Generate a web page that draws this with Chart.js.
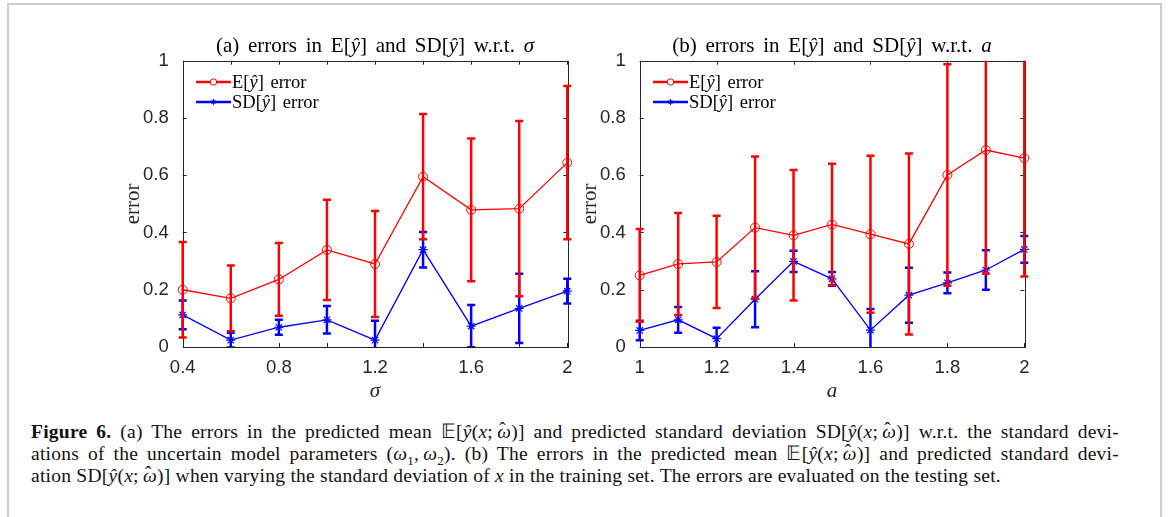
<!DOCTYPE html>
<html>
<head>
<meta charset="utf-8">
<script src="https://cdn.jsdelivr.net/npm/chart.js@4/dist/chart.umd.min.js"></script>
<style>
  body { margin: 0; background: #fff; width: 1170px; height: 517px; overflow: hidden; position: relative; }
  #frame { position: absolute; left: 7px; top: 3px; width: 1155px; height: 530px; border: 2px solid #cccccc; box-sizing: border-box; }
  canvas { position: absolute; }
  .title { position: absolute; width: 460px; text-align: center; font: 21px "Liberation Serif", serif; word-spacing: 3.5px; color: #000; line-height: 22px; }
  .legend { position: absolute; font: 18.5px "Liberation Serif", serif; word-spacing: 2px; color: #000; line-height: 20px; }
  .legend div { height: 20px; white-space: nowrap; }
  .legend svg { vertical-align: middle; margin-right: 1px; position: relative; top: -2px; }
  .caption { position: absolute; left: 31px; width: 1088px; font: 19.5px "Liberation Serif", serif; letter-spacing: 0.25px; color: #111; line-height: 22px; }
  .caption div { text-align: justify; text-align-last: justify; white-space: nowrap; }
  .caption div.last { text-align: left; text-align-last: left; }
  .hat { position: relative; }
  .hat::after { content: "\02C6"; position: absolute; left: 2px; top: -3px; font-style: normal; }
  sub { font-size: 13px; line-height: 0; }
</style>
</head>
<body>
<div id="frame"></div>
<canvas id="chartA" width="480" height="400" style="left:100px; top:20px"></canvas>
<canvas id="chartB" width="480" height="400" style="left:557px; top:20px"></canvas>

<div class="title" style="left:145px; top:34px">(a) errors in E[<i>ŷ</i>] and SD[<i>ŷ</i>] w.r.t. <i>σ</i></div>
<div class="title" style="left:602px; top:34px">(b) errors in E[<i>ŷ</i>] and SD[<i>ŷ</i>] w.r.t. <i>a</i></div>

<div class="legend" style="left:196px; top:72px">
  <div><svg width="35" height="12"><line x1="0" y1="6" x2="35" y2="6" stroke="#ff0000" stroke-width="2.5"/><circle cx="17.5" cy="6" r="3.2" fill="#fff" stroke="#ff0000" stroke-width="1"/></svg>E[<i>ŷ</i>] error</div>
  <div><svg width="35" height="12"><line x1="0" y1="6" x2="35" y2="6" stroke="#0000ff" stroke-width="2.5"/><path d="M14.5 6h6M17.5 3v6M15.4 3.9l4.2 4.2M19.6 3.9l-4.2 4.2" stroke="#0000ff" stroke-width="1"/></svg>SD[<i>ŷ</i>] error</div>
</div>
<div class="legend" style="left:653px; top:72px">
  <div><svg width="35" height="12"><line x1="0" y1="6" x2="35" y2="6" stroke="#ff0000" stroke-width="2.5"/><circle cx="17.5" cy="6" r="3.2" fill="#fff" stroke="#ff0000" stroke-width="1"/></svg>E[<i>ŷ</i>] error</div>
  <div><svg width="35" height="12"><line x1="0" y1="6" x2="35" y2="6" stroke="#0000ff" stroke-width="2.5"/><path d="M14.5 6h6M17.5 3v6M15.4 3.9l4.2 4.2M19.6 3.9l-4.2 4.2" stroke="#0000ff" stroke-width="1"/></svg>SD[<i>ŷ</i>] error</div>
</div>

<div class="caption" style="top:421px">
  <div><b>Figure 6.</b> (a) The errors in the predicted mean 𝔼[<i>ŷ</i>(<i>x</i>;&#8201;<i class="hat">ω</i>)] and predicted standard deviation SD[<i>ŷ</i>(<i>x</i>;&#8201;<i class="hat">ω</i>)] w.r.t. the standard devi-</div>
  <div>ations of the uncertain model parameters (<i>ω</i><sub>1</sub>,&#8201;<i>ω</i><sub>2</sub>). (b) The errors in the predicted mean 𝔼[<i>ŷ</i>(<i>x</i>;&#8201;<i class="hat">ω</i>)] and predicted standard devi-</div>
  <div class="last">ation SD[<i>ŷ</i>(<i>x</i>;&#8201;<i class="hat">ω</i>)] when varying the standard deviation of <i>x</i> in the training set. The errors are evaluated on the testing set.</div>
</div>

<script>
// (a) errors vs sigma
const sigmaValues = [0.4, 0.6, 0.8, 1.0, 1.2, 1.4, 1.6, 1.8, 2.0];
const meanErrA = [0.200, 0.170, 0.236, 0.339, 0.290, 0.595, 0.479, 0.483, 0.644];
const meanStdA = [0.167, 0.115, 0.127, 0.175, 0.185, 0.219, 0.249, 0.306, 0.268];
const sdErrA = [0.112, 0.024, 0.069, 0.095, 0.024, 0.340, 0.073, 0.135, 0.195];
const sdStdA = [0.050, 0.026, 0.026, 0.048, 0.068, 0.062, 0.074, 0.121, 0.043];
const sigmaTickLabels = ['0.4', '0.8', '1.2', '1.6', '2'];

// (b) errors vs a
const aValues = [1.0, 1.1, 1.2, 1.3, 1.4, 1.5, 1.6, 1.7, 1.8, 1.9, 2.0];
const meanErrB = [0.250, 0.290, 0.297, 0.417, 0.390, 0.428, 0.394, 0.360, 0.601, 0.688, 0.660];
const meanStdB = [0.162, 0.178, 0.161, 0.248, 0.228, 0.212, 0.274, 0.316, 0.387, 0.432, 0.414];
const sdErrB = [0.058, 0.095, 0.029, 0.167, 0.299, 0.238, 0.059, 0.181, 0.224, 0.269, 0.341];
const sdStdB = [0.034, 0.045, 0.038, 0.098, 0.037, 0.024, 0.074, 0.096, 0.036, 0.069, 0.047];
const aTickLabels = ['1', '1.2', '1.4', '1.6', '1.8', '2'];

const yTickLabels = ['0', '0.2', '0.4', '0.6', '0.8', '1'];
const axisColor = '#262626';

// error bars, drawn under each dataset's line and markers
const errorBars = {
  id: 'errorBars',
  beforeDatasetDraw(chart, args) {
    const ds = chart.data.datasets[args.index];
    if (!ds.errors) return;
    const { ctx, chartArea, scales: { x, y } } = chart;
    ctx.save();
    ctx.beginPath();
    ctx.rect(0, chartArea.top, chart.width, chartArea.bottom - chartArea.top);
    ctx.clip();
    ctx.strokeStyle = ds.borderColor;
    ctx.lineWidth = 2.5;
    ds.data.forEach((p, i) => {
      const px = x.getPixelForValue(p.x);
      const hi = y.getPixelForValue(p.y + ds.errors[i]);
      const lo = y.getPixelForValue(p.y - ds.errors[i]);
      ctx.beginPath();
      ctx.moveTo(px, hi); ctx.lineTo(px, lo);
      ctx.moveTo(px - 4, hi); ctx.lineTo(px + 4, hi);
      ctx.moveTo(px - 4, lo); ctx.lineTo(px + 4, lo);
      ctx.stroke();
    });
    ctx.restore();
  }
};

// matlab style box with inward ticks on all sides
const axisBox = {
  id: 'axisBox',
  beforeDatasetsDraw(chart) {
    const { ctx, chartArea: { left, right, top, bottom }, scales: { x, y } } = chart;
    ctx.save();
    ctx.strokeStyle = axisColor;
    ctx.lineWidth = 1;
    ctx.strokeRect(Math.round(left) + 0.5, Math.round(top) + 0.5, Math.round(right - left), Math.round(bottom - top));
    ctx.beginPath();
    x.ticks.forEach(t => {
      const px = Math.round(x.getPixelForValue(t.value)) + 0.5;
      ctx.moveTo(px, bottom); ctx.lineTo(px, bottom - 4);
      ctx.moveTo(px, top); ctx.lineTo(px, top + 4);
    });
    y.ticks.forEach(t => {
      const py = Math.round(y.getPixelForValue(t.value)) + 0.5;
      ctx.moveTo(left, py); ctx.lineTo(left + 4, py);
      ctx.moveTo(right, py); ctx.lineTo(right - 4, py);
    });
    ctx.stroke();
    ctx.restore();
  }
};

function fmt(v) {
  return String(Number(v.toFixed(2)));
}

function makeChart(id, xs, mean, meanStd, sd, sdStd, xMin, xMax, xTickLabels, xTitle) {
  const ctx = document.getElementById(id).getContext('2d');
  return new Chart(ctx, {
    type: 'line',
    data: {
      datasets: [{
        label: 'E[ŷ] error',
        data: xs.map((v, i) => ({ x: v, y: mean[i] })),
        errors: meanStd,
        borderColor: '#ff0000',
        backgroundColor: 'transparent',
        borderWidth: 1.3,
        pointStyle: 'circle',
        pointRadius: 4.5,
        pointBorderWidth: 1,
        pointBackgroundColor: 'transparent',
        clip: false
      }, {
        label: 'SD[ŷ] error',
        data: xs.map((v, i) => ({ x: v, y: sd[i] })),
        errors: sdStd,
        borderColor: '#0000ff',
        backgroundColor: 'transparent',
        borderWidth: 1.3,
        pointStyle: 'star',
        pointRadius: 4.5,
        pointBorderWidth: 1.2,
        clip: false
      }]
    },
    options: {
      responsive: false,
      animation: false,
      layout: { padding: { top: 40.7, right: 12.7, left: 0, bottom: 0 } },
      plugins: {
        legend: { display: false },
        tooltip: { enabled: false }
      },
      scales: {
        x: {
          type: 'linear',
          min: xMin,
          max: xMax,
          grid: { display: false },
          border: { display: false },
          ticks: {
            stepSize: 0.2,
            padding: 2,
            maxRotation: 0,
            autoSkip: false,
            color: axisColor,
            font: { family: 'Liberation Sans', size: 18.5 },
            callback: v => xTickLabels.includes(fmt(v)) ? fmt(v) : ''
          },
          title: {
            display: true,
            text: xTitle,
            color: axisColor,
            font: { family: 'Liberation Serif', size: 21, style: 'italic' },
            padding: { bottom: 16, top: 0 }
          },
          afterFit: s => { s.height = 73; }
        },
        y: {
          min: 0,
          max: 1,
          grid: { display: false },
          border: { display: false },
          ticks: {
            stepSize: 0.2,
            padding: 6,
            color: axisColor,
            font: { family: 'Liberation Sans', size: 18.5 },
            callback: v => yTickLabels.includes(fmt(v)) ? fmt(v) : ''
          },
          title: {
            display: true,
            text: 'error',
            color: axisColor,
            font: { family: 'Liberation Serif', size: 21 },
            padding: { top: 21, bottom: 0 }
          },
          afterFit: s => { s.width = 82.7; }
        }
      }
    },
    plugins: [axisBox, errorBars]
  });
}

makeChart('chartA', sigmaValues, meanErrA, meanStdA, sdErrA, sdStdA, 0.4, 2, sigmaTickLabels, 'σ');
makeChart('chartB', aValues, meanErrB, meanStdB, sdErrB, sdStdB, 1, 2, aTickLabels, 'a');
</script>
</body>
</html>
